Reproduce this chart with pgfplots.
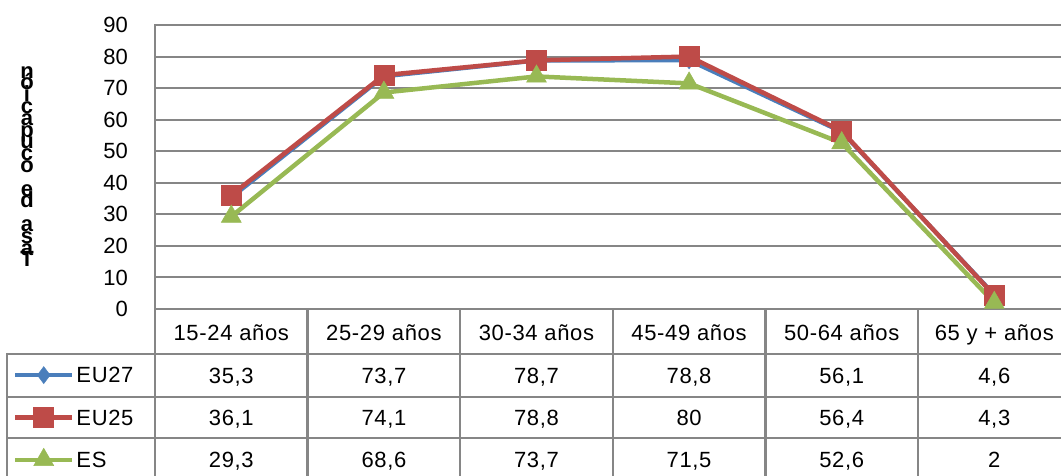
\documentclass[border=0pt]{standalone}
\usepackage{pgfplots}
\pgfplotsset{compat=1.18}
\usepackage{fontspec}
\setmainfont{Liberation Sans}
\newfontfamily\tabfont{Liberation Sans}[LetterSpace=3]
\definecolor{cEUa}{HTML}{4A7EBB}
\definecolor{cEUb}{HTML}{BE4B48}
\definecolor{cES}{HTML}{98B954}
\definecolor{gridc}{HTML}{868686}
\newcommand\ylab{\vbox{\fontsize{22}{11.8}\selectfont\bfseries\baselineskip=11.8pt\lineskiplimit=-\maxdimen\lineskip=0pt\halign{\hfil##\hfil\cr n\cr ó\cr i\cr c\cr a\cr p\cr u\cr c\cr o\cr\cr e\cr d\cr\cr a\cr s\cr a\cr T\cr}}}
\begin{document}
\begin{tikzpicture}[x=1pt,y=1pt]
\begin{axis}[
  at={(155pt,166pt)}, anchor=south west,
  width=915.6pt, height=284pt, scale only axis,
  xmin=0, xmax=6, ymin=0, ymax=90,
  xtick={0.5,1.5,2.5,3.5,4.5,5.5},
  xticklabels={15-24 años,25-29 años,30-34 años,45-49 años,50-64 años,65 y + años},
  ytick={0,10,...,90},
  /pgf/number format/assume math mode=true,
  major tick length=0pt,
  ymajorgrids, grid style={gridc, line width=2pt},
  axis line style={gridc, line width=2.5pt},
  tick label style={font=\fontsize{22}{26}\selectfont},
  xticklabel style={anchor=base, yshift=-31pt, font=\tabfont\fontsize{22}{26}\selectfont},
  yticklabel style={anchor=east, inner sep=0pt, xshift=-27pt},
  clip=false,
  legend cell align=left,
  legend style={at={(-0.15509,-0.158451)}, anchor=north west, draw=none, fill=none,
    inner sep=0pt, outer sep=0pt, row sep=0pt, column sep=2pt,
    nodes={minimum height=42.3pt, inner sep=0pt, text depth=0pt, font=\tabfont\fontsize{22}{26}\selectfont}},
  legend image code/.code={\draw[mark repeat=2,mark phase=2,#1] plot coordinates {(0pt,0pt) (28.5pt,0pt) (57pt,0pt)};},
]
\addplot[color=cEUa, line width=4pt, mark=diamond*, mark size=8.5pt, mark options={line width=0.5pt}]
  coordinates {(0.5,35.3) (1.5,73.7) (2.5,78.7) (3.5,78.8) (4.5,56.1) (5.5,4.6)};
\addlegendentry{EU27}
\addplot[color=cEUb, line width=4.5pt, mark=square*, mark size=10pt, mark options={line width=0.5pt}]
  coordinates {(0.5,36.1) (1.5,74.1) (2.5,78.8) (3.5,80) (4.5,56.4) (5.5,4.3)};
\addlegendentry{EU25}
\addplot[color=cES, line width=4.5pt, mark=triangle*, mark size=11.5pt, mark options={line width=0.5pt}]
  coordinates {(0.5,29.3) (1.5,68.6) (2.5,73.7) (3.5,71.5) (4.5,52.6) (5.5,2)};
\addlegendentry{ES}
\end{axis}
% table grid
\draw[gridc, line width=2.5pt] (7,121) -- (1080,121);
\draw[gridc, line width=2.5pt] (7,78) -- (1080,78);
\draw[gridc, line width=2.5pt] (7,37) -- (1080,37);
\draw[gridc, line width=2.5pt] (7,-6) -- (1080,-6);
\draw[gridc, line width=2.5pt] (7,122.25) -- (7,-10);
\draw[gridc, line width=2.5pt] (155,166) -- (155,-10);
\foreach \k in {1,...,5} {\draw[gridc, line width=2.5pt] (155+152.6*\k,166) -- (155+152.6*\k,-10);}
% table values
\begin{scope}[every node/.style={anchor=base, inner sep=0pt, font=\tabfont\fontsize{22}{26}\selectfont}]
\node at (231.3,91.6) {35,3}; \node at (383.9,91.6) {73,7}; \node at (536.5,91.6) {78,7};
\node at (689.1,91.6) {78,8}; \node at (841.7,91.6) {56,1}; \node at (994.3,91.6) {4,6};
\node at (231.3,49.6) {36,1}; \node at (383.9,49.6) {74,1}; \node at (536.5,49.6) {78,8};
\node at (689.1,49.6) {80}; \node at (841.7,49.6) {56,4}; \node at (994.3,49.6) {4,3};
\node at (231.3,7.6) {29,3}; \node at (383.9,7.6) {68,6}; \node at (536.5,7.6) {73,7};
\node at (689.1,7.6) {71,5}; \node at (841.7,7.6) {52,6}; \node at (994.3,7.6) {2};
\end{scope}
\node[anchor=south, inner sep=0pt] at (27,208) {\ylab};
\pgfresetboundingbox
\path[use as bounding box] (0,0) rectangle (1061,475);
\end{tikzpicture}
\end{document}
